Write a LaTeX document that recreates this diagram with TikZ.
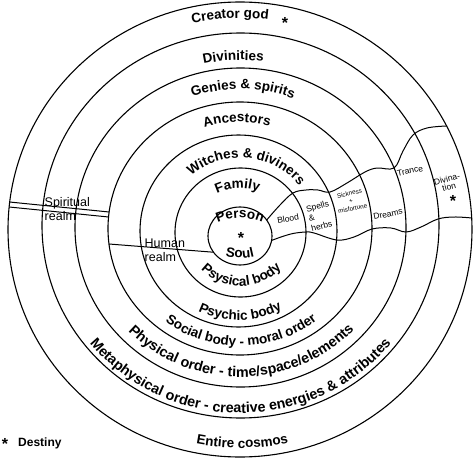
\documentclass[tikz,border=0pt]{standalone}
\usepackage{fontspec}
\setmainfont{Liberation Sans}
\usetikzlibrary{decorations.text}
\newcommand{\ringfont}{\fontsize{13.5}{16}\selectfont\bfseries}
\newcommand{\wideringfont}{\fontsize{14.3}{16}\selectfont\bfseries}

\begin{document}
\begin{tikzpicture}[x=1pt, y=1pt,
  ring/.style={line width=1.1pt},
  border/.style={line width=1pt},
  arctext/.style={decorate, decoration={text along path, text align=center,
                  text={|\ringfont|#1}}},
  widetext/.style={decorate, decoration={text along path, text align=center,
                  text={|\wideringfont|#1}}},
  realm/.style={font=\fontsize{12.5}{14.5}\selectfont, align=left,
                anchor=west, inner sep=0pt},
  cell/.style={font=\fontsize{8.5}{10}\selectfont, align=center, inner sep=0pt},
  star/.style={font=\fontsize{16}{16}\selectfont\bfseries, inner sep=0pt,
               yshift=-3.5pt},
]
\useasboundingbox (-240,-234) rectangle (234,230);

% ---- Rings ----
\draw[ring] (0,-6)     ellipse[x radius=32,    y radius=29];    % person
\draw[ring] (0.5,-2.5) ellipse[x radius=65.5,  y radius=64.5];  % family
\draw[ring] (-1.5,-1)  ellipse[x radius=98.5,  y radius=96];    % witches
\draw[ring] (0,1.5)    ellipse[x radius=132,   y radius=126.5]; % ancestors
\draw[ring] (0.5,2.5)  ellipse[x radius=165.5, y radius=159.5]; % genies
\draw[ring] (0.5,4.5)  ellipse[x radius=198.5, y radius=192.5]; % divinities
\draw[ring] (0,0.5)    ellipse[x radius=232,   y radius=227.5]; % cosmos

% ---- Upper labels ----
\path[arctext={Creator god}] (0.5,4.5) ++(132.8:213.5 and 207.5)
  arc[start angle=132.8, end angle=52.8, x radius=213.5, y radius=207.5];
\path[arctext={Divinities}] (0.5,2.5) ++(142.4:173.5 and 167.5)
  arc[start angle=142.4, end angle=42.4, x radius=173.5, y radius=167.5];
\path[arctext={Genies {\&} spirits}] (0,1.5) ++(148.8:145 and 139.5)
  arc[start angle=148.8, end angle=28.8, x radius=145, y radius=139.5];
\path[arctext={Ancestors}] (-1.5,-1) ++(150.8:111.5 and 109)
  arc[start angle=150.8, end angle=30.8, x radius=111.5, y radius=109];
\path[arctext={Witches {\&} diviners}] (0.5,-2.5) ++(164.7:75.5 and 74.5)
  arc[start angle=164.7, end angle=4.7, x radius=75.5, y radius=74.5];
\path[arctext={Family}] (0,-6) ++(172.9:51 and 48)
  arc[start angle=172.9, end angle=12.9, x radius=51, y radius=48];
\path[arctext={Person}] (0,-44) ++(130:56)
  arc[start angle=130, end angle=50, radius=56];

% ---- Lower labels ----
\path[arctext={Soul}] (0,30) ++(220:58)
  arc[start angle=220, end angle=320, radius=58];
\path[arctext={Psysical body}] (0.5,-2.5) ++(186:54.5 and 53.5)
  arc[start angle=186, end angle=356, x radius=54.5, y radius=53.5];
\path[arctext={Psychic body}] (-1.5,-1) ++(201.2:91.5 and 89)
  arc[start angle=201.2, end angle=341.2, x radius=91.5, y radius=89];
\path[arctext={Social body - moral order}] (0,1.5) ++(195.7:123 and 117.5)
  arc[start angle=195.7, end angle=345.7, x radius=123, y radius=117.5];
\path[widetext={Physical order - time/space/elements}] (0.5,2.5) ++(195.4:155.5 and 149.5)
  arc[start angle=195.4, end angle=345.4, x radius=155.5, y radius=149.5];
\path[widetext={Metaphysical order - creative energies {\&} attributes}] (0.5,4.5)
  ++(190:193.5 and 187.5)
  arc[start angle=190, end angle=350, x radius=193.5, y radius=187.5];
\path[arctext={Entire cosmos}] (0,0.5) ++(230.6:223 and 218.5)
  arc[start angle=230.6, end angle=310.6, x radius=223, y radius=218.5];

% ---- Realms ----
\path (0,0.5) ++(173.06:232 and 227.5) coordinate (spo1);
\path (0,0.5) ++(174.32:232 and 227.5) coordinate (spo2);
\path (0,1.5) ++(172.5:132 and 126.5)  coordinate (spa1);
\path (0,1.5) ++(174.78:132 and 126.5) coordinate (spa2);
\draw[border] (spo1) -- (spa1);
\draw[border] (spo2) -- (spa2);
\node[realm] (spirit) at (-195.5,21) {Spiritual\\realm};

\path (0,1.5) ++(187.04:132 and 126.5) coordinate (hua);
\path (0,-6) ++(214:32 and 29) coordinate (hup);
\draw[border] (hua) -- (hup);
\node[realm] (human) at (-95.5,-20.5) {Human\\realm};

% ---- Band on the right ----
\draw[border] plot[smooth, tension=0.6] coordinates {(26.7,10) (40,25) (53,37)
  (66,40) (78,40) (90,38) (107,47) (125,58) (137,62) (154,62) (163,79)
  (173,95) (187,102) (206.6,104)};
\draw[border] plot[smooth, tension=0.6] coordinates {(31.5,-10.5) (41,-7)
  (53,-3.5) (66,-2) (74,-3) (97,-10) (114,-7) (132,1) (151,2) (166,-2)
  (181,3) (198,11) (214,13) (232,12)};

\node[cell, rotate=10] (blood) at (48,11) {Blood};
\node[cell, rotate=15, align=left] (spells) at (80,14) {Spells\\\&\\herbs};
\node[cell, rotate=12, font=\fontsize{6.3}{7.8}\selectfont] (sick) at (111,29)
  {Sickness\\+\\misfortune};
\node[cell, rotate=12] (dreams) at (148,16) {Dreams};
\node[cell, rotate=12] (trance) at (170,59) {Trance};
\node[cell, rotate=15, font=\fontsize{8.5}{8}\selectfont] (divin) at (208,47)
  {Divina-\\tion};

% ---- Destiny marks ----
\node[star] (gstar) at (45,211) {*};
\node[star] (pstar) at (1,-4) {*};
\node[star] (dstar) at (213,33) {*};
\node[star] (lstar) at (-235,-210) {*};
\node[font=\fontsize{12}{14}\selectfont\bfseries, anchor=west, inner sep=0pt]
  (destiny) at (-222,-213) {Destiny};

\end{tikzpicture}
\end{document}
